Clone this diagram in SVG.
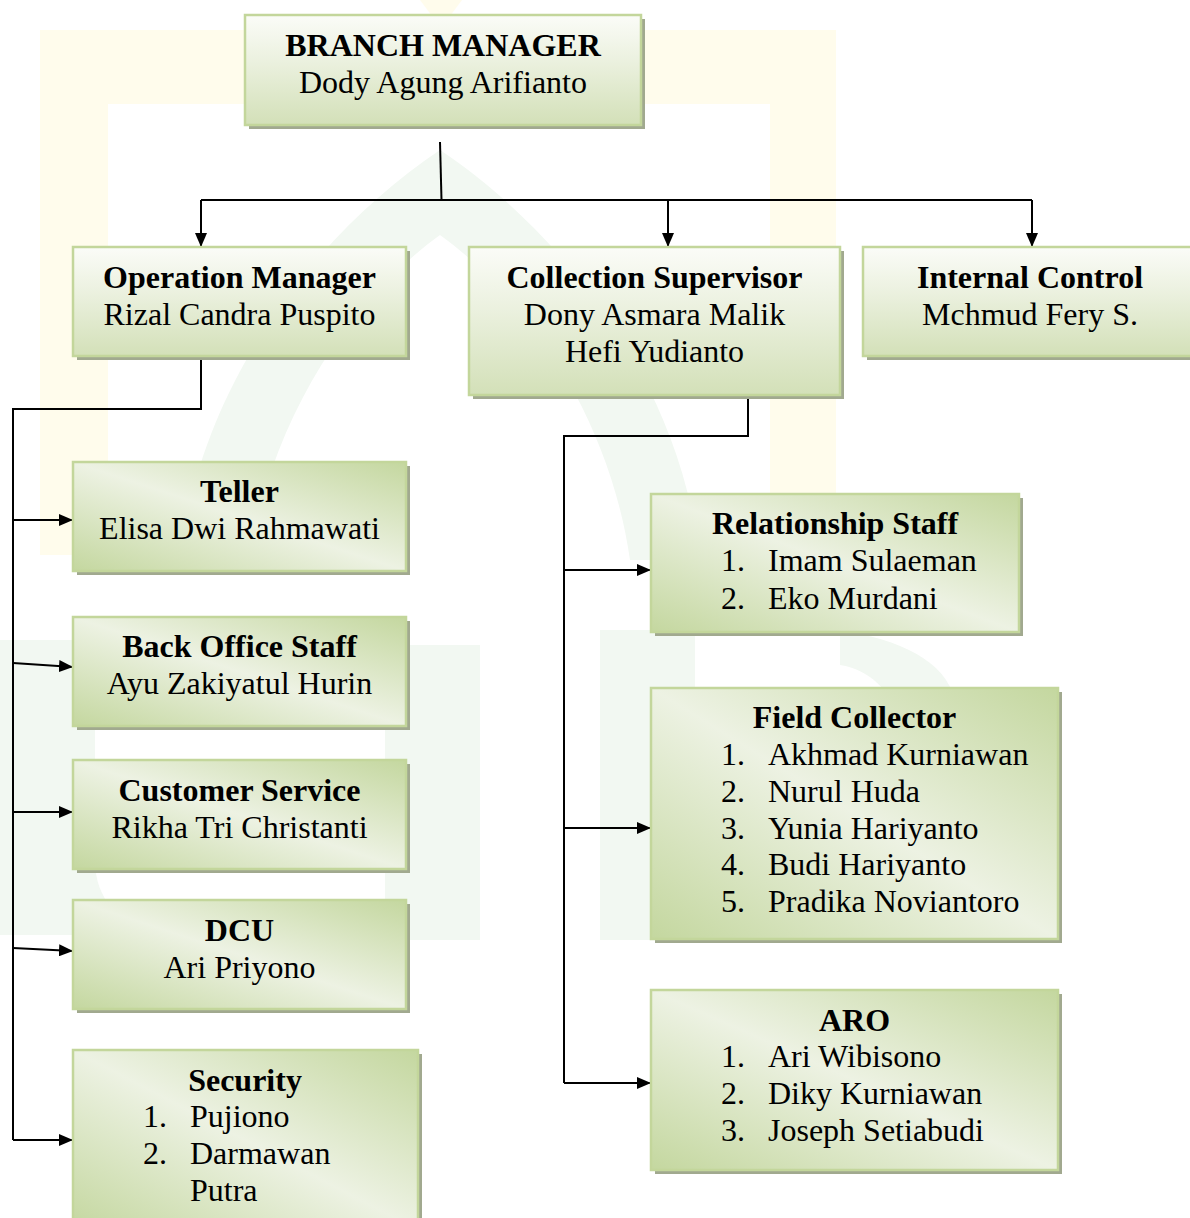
<svg xmlns="http://www.w3.org/2000/svg" width="1190" height="1218" viewBox="0 0 1190 1218">
  <style>
    .box { stroke: #c3d69b; stroke-width: 2.5; }
    .top { fill: url(#gTop); }
    .sub { fill: url(#gDiag); }
    .shadow { fill: #a1a98f; }
    .t { font-family: "Liberation Serif", "Times New Roman", serif; font-size: 32px; fill: #000; }
    .h { font-weight: bold; }
    .c { text-anchor: middle; }
    .wire { fill: none; stroke: #000; stroke-width: 2; }
    .arrow { fill: none; stroke: #000; stroke-width: 2; marker-end: url(#head); }
  </style>
  <defs>
    <linearGradient id="gTop" x1="0" y1="0" x2="0" y2="1">
      <stop offset="0" stop-color="#fbfcf8"/>
      <stop offset="0.45" stop-color="#eaf0dd"/>
      <stop offset="1" stop-color="#d3e0b8"/>
    </linearGradient>
    <linearGradient id="gDiag" x1="1" y1="0" x2="0" y2="1">
      <stop offset="0" stop-color="#c4d79f"/>
      <stop offset="0.5" stop-color="#edf2e3"/>
      <stop offset="1" stop-color="#c4d79f"/>
    </linearGradient>
    <marker id="head" markerUnits="userSpaceOnUse" markerWidth="14" markerHeight="12" viewBox="0 0 14 12" refX="14" refY="6" orient="auto">
      <path d="M0,0 L14,6 L0,12 z" fill="#000"/>
    </marker>
  </defs>

  <rect width="1190" height="1218" fill="#ffffff"/>

  <!-- faint background emblem -->
  <g id="emblem">
    <path d="M40,30 H836 V555 H770 V104 H108 V555 H40 Z" fill="#fffcec"/>
    <path d="M420,0 L462,0 L441,28 Z" fill="#fffcec"/>
    <path d="M180,560 C200,380 320,230 440,150 C560,230 680,380 700,560 L630,560 C610,420 530,300 440,235 C350,300 270,420 250,560 Z" fill="#f2f8f2"/>
    <path d="M0,640 H95 V860 C95,900 120,925 160,935 H0 Z" fill="#f2f8f2"/>
    <rect x="385" y="645" width="95" height="295" fill="#f2f8f2"/>
    <rect x="600" y="630" width="95" height="310" fill="#f2f8f2"/>
    <path d="M840,630 C900,640 945,660 955,700 V940 H900 V720 C890,690 870,670 840,665 Z" fill="#f2f8f2"/>
  </g>

  <!-- connectors -->
  <g id="connectors">
    <path class="wire" d="M440,142 L441.5,200"/>
    <path class="wire" d="M201,200 H1032"/>
    <path class="arrow" d="M201,200 V247"/>
    <path class="arrow" d="M668,200 V247"/>
    <path class="arrow" d="M1032,200 V247"/>

    <path class="wire" d="M201,356 V409 H13 V1140"/>
    <path class="arrow" d="M13,520 H73"/>
    <path class="arrow" d="M13,663 L73,667"/>
    <path class="arrow" d="M13,812 H73"/>
    <path class="arrow" d="M13,948 L73,951"/>
    <path class="arrow" d="M13,1140 H73"/>

    <path class="wire" d="M748,395 V436 H564 V1083"/>
    <path class="arrow" d="M564,570 H651"/>
    <path class="arrow" d="M564,828 H651"/>
    <path class="arrow" d="M564,1083 H651"/>
  </g>

  <g id="branch-manager">
    <rect class="shadow" x="249" y="19" width="396" height="110"/>
    <rect class="box top" x="245" y="15" width="396" height="110"/>
    <text class="t h c" x="443" y="56">BRANCH MANAGER</text>
    <text class="t c" x="443" y="93">Dody Agung Arifianto</text>
  </g>

  <g id="operation-manager">
    <rect class="shadow" x="77" y="251" width="333" height="109"/>
    <rect class="box top" x="73" y="247" width="333" height="109"/>
    <text class="t h c" x="239.5" y="288">Operation Manager</text>
    <text class="t c" x="239.5" y="325">Rizal Candra Puspito</text>
  </g>

  <g id="collection-supervisor">
    <rect class="shadow" x="473" y="251" width="371" height="148"/>
    <rect class="box top" x="469" y="247" width="371" height="148"/>
    <text class="t h c" x="654.5" y="288">Collection Supervisor</text>
    <text class="t c" x="654.5" y="325">Dony Asmara Malik</text>
    <text class="t c" x="654.5" y="362">Hefi Yudianto</text>
  </g>

  <g id="internal-control">
    <rect class="shadow" x="867" y="251" width="334" height="109"/>
    <rect class="box top" x="863" y="247" width="334" height="109"/>
    <text class="t h c" x="1030" y="288">Internal Control</text>
    <text class="t c" x="1030" y="325">Mchmud Fery S.</text>
  </g>

  <g id="teller">
    <rect class="shadow" x="77" y="466" width="333" height="109"/>
    <rect class="box sub" x="73" y="462" width="333" height="109"/>
    <text class="t h c" x="239.5" y="502">Teller</text>
    <text class="t c" x="239.5" y="539">Elisa Dwi Rahmawati</text>
  </g>

  <g id="back-office-staff">
    <rect class="shadow" x="77" y="621" width="333" height="109"/>
    <rect class="box sub" x="73" y="617" width="333" height="109"/>
    <text class="t h c" x="239.5" y="657">Back Office Staff</text>
    <text class="t c" x="239.5" y="694">Ayu Zakiyatul Hurin</text>
  </g>

  <g id="customer-service">
    <rect class="shadow" x="77" y="764" width="333" height="109"/>
    <rect class="box sub" x="73" y="760" width="333" height="109"/>
    <text class="t h c" x="239.5" y="801">Customer Service</text>
    <text class="t c" x="239.5" y="838">Rikha Tri Christanti</text>
  </g>

  <g id="dcu">
    <rect class="shadow" x="77" y="904" width="333" height="109"/>
    <rect class="box sub" x="73" y="900" width="333" height="109"/>
    <text class="t h c" x="239.5" y="941">DCU</text>
    <text class="t c" x="239.5" y="978">Ari Priyono</text>
  </g>

  <g id="security">
    <rect class="shadow" x="77" y="1054" width="345" height="180"/>
    <rect class="box sub" x="73" y="1050" width="345" height="180"/>
    <text class="t h c" x="245" y="1091">Security</text>
    <text class="t" x="143" y="1127">1.</text>
    <text class="t" x="190" y="1127">Pujiono</text>
    <text class="t" x="143" y="1164">2.</text>
    <text class="t" x="190" y="1164">Darmawan</text>
    <text class="t" x="190" y="1201">Putra</text>
  </g>

  <g id="relationship-staff">
    <rect class="shadow" x="655" y="498" width="368" height="138"/>
    <rect class="box sub" x="651" y="494" width="368" height="138"/>
    <text class="t h c" x="835" y="534">Relationship Staff</text>
    <text class="t" x="721" y="571">1.</text>
    <text class="t" x="768" y="571">Imam Sulaeman</text>
    <text class="t" x="721" y="609">2.</text>
    <text class="t" x="768" y="609">Eko Murdani</text>
  </g>

  <g id="field-collector">
    <rect class="shadow" x="655" y="692" width="407" height="251"/>
    <rect class="box sub" x="651" y="688" width="407" height="251"/>
    <text class="t h c" x="854.5" y="728">Field Collector</text>
    <text class="t" x="721" y="765">1.</text>
    <text class="t" x="768" y="765">Akhmad Kurniawan</text>
    <text class="t" x="721" y="802">2.</text>
    <text class="t" x="768" y="802">Nurul Huda</text>
    <text class="t" x="721" y="839">3.</text>
    <text class="t" x="768" y="839">Yunia Hariyanto</text>
    <text class="t" x="721" y="875">4.</text>
    <text class="t" x="768" y="875">Budi Hariyanto</text>
    <text class="t" x="721" y="912">5.</text>
    <text class="t" x="768" y="912">Pradika Noviantoro</text>
  </g>

  <g id="aro">
    <rect class="shadow" x="655" y="994" width="407" height="180"/>
    <rect class="box sub" x="651" y="990" width="407" height="180"/>
    <text class="t h c" x="854.5" y="1031">ARO</text>
    <text class="t" x="721" y="1067">1.</text>
    <text class="t" x="768" y="1067">Ari Wibisono</text>
    <text class="t" x="721" y="1104">2.</text>
    <text class="t" x="768" y="1104">Diky Kurniawan</text>
    <text class="t" x="721" y="1141">3.</text>
    <text class="t" x="768" y="1141">Joseph Setiabudi</text>
  </g>
</svg>
